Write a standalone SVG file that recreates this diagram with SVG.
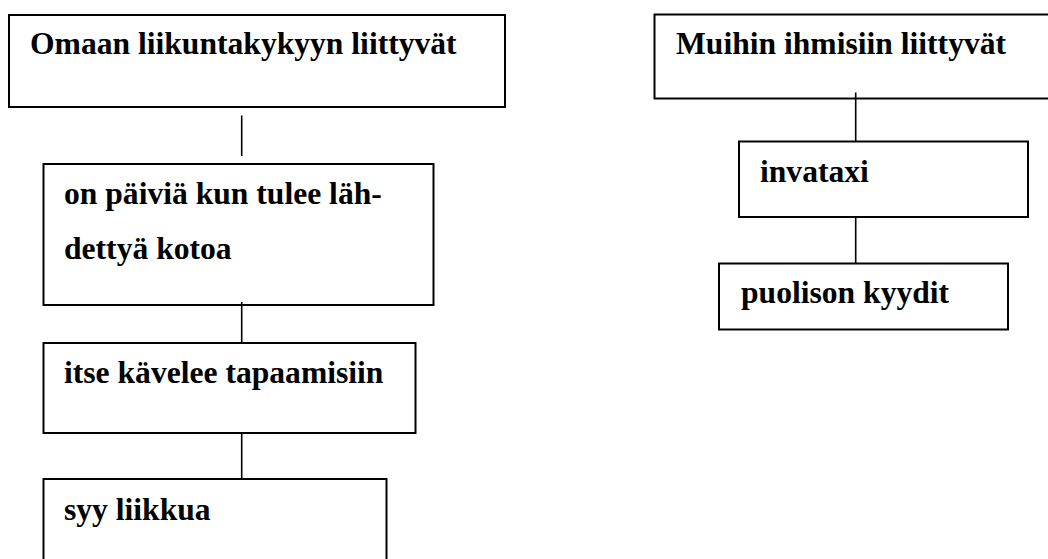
<svg xmlns="http://www.w3.org/2000/svg" width="1048" height="559" viewBox="0 0 1048 559">
<style>
.box{fill:#fff;stroke:#000;stroke-width:2}
.lbl{font-family:"Liberation Serif","Times New Roman",serif;font-weight:bold;font-size:31.6px;fill:#000}
.con line{stroke:#000;stroke-width:1.6}
</style>
<rect width="1048" height="559" fill="#fff"/>
<g id="n1"><rect class="box" x="9" y="15" width="496" height="92"/><text class="lbl" x="30" y="54">Omaan liikuntakykyyn liittyvät</text></g>
<g id="n2"><rect class="box" x="43.5" y="164" width="390" height="141"/><text class="lbl" x="64" y="204">on päiviä kun tulee läh-</text><text class="lbl" x="64" y="259">dettyä kotoa</text></g>
<g id="n3"><rect class="box" x="43.5" y="343" width="372" height="90"/><text class="lbl" x="64" y="383">itse kävelee tapaamisiin</text></g>
<g id="n4"><rect class="box" x="43.5" y="479" width="343" height="100"/><text class="lbl" x="64" y="520">syy liikkua</text></g>
<g id="n5"><rect class="box" x="654.5" y="14.5" width="400" height="84"/><text class="lbl" x="676" y="54">Muihin ihmisiin liittyvät</text></g>
<g id="n6"><rect class="box" x="739" y="141.5" width="289" height="75.5"/><text class="lbl" x="760" y="182">invataxi</text></g>
<g id="n7"><rect class="box" x="719" y="263.5" width="289" height="66"/><text class="lbl" x="741" y="303">puolison kyydit</text></g>
<g id="connectors" class="con">
<line x1="241.7" y1="115.5" x2="241.7" y2="156"/>
<line x1="241.7" y1="302" x2="241.7" y2="343"/>
<line x1="241.7" y1="433" x2="241.7" y2="479"/>
<line x1="855.7" y1="92.5" x2="855.7" y2="141.5"/>
<line x1="855.7" y1="217" x2="855.7" y2="263.5"/>
</g>
</svg>
